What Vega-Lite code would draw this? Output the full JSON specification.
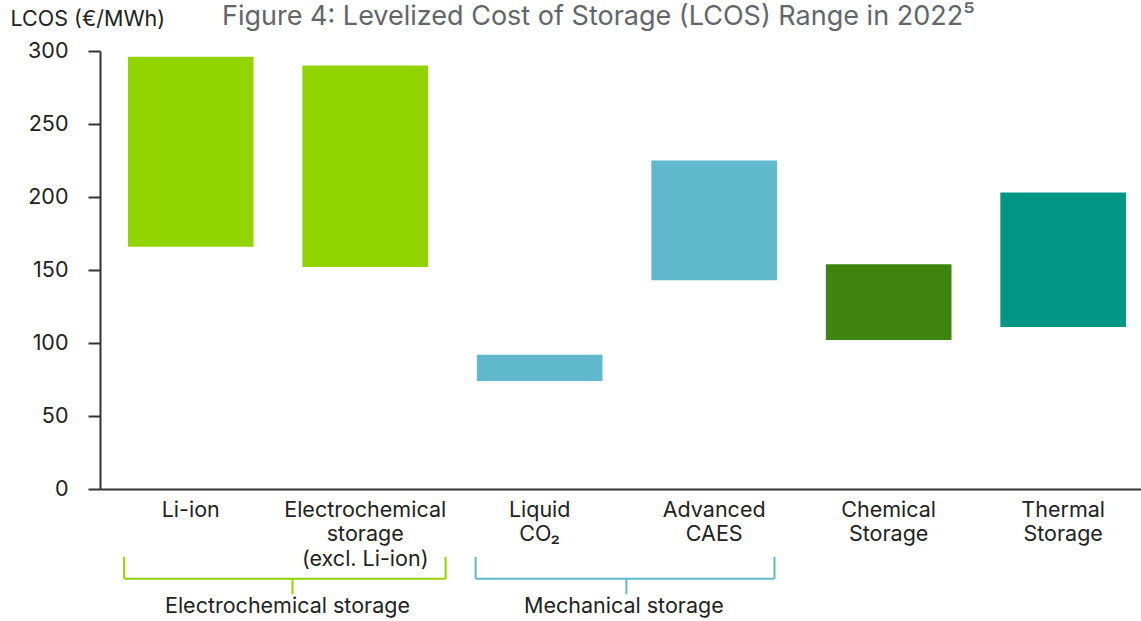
{
  "$schema": "https://vega.github.io/schema/vega-lite/v6.json",
  "autosize": "none",
  "padding": {"left": 100, "top": 51, "right": 0, "bottom": 132},
  "width": 1041,
  "height": 438,
  "background": "white",
  "config": {
    "font": "Inter",
    "view": {"stroke": null},
    "axis": {"labelFont": "Inter", "titleFont": "Inter"}
  },
  "title": {
    "text": "Figure 4: Levelized Cost of Storage (LCOS) Range in 2022⁵",
    "font": "Inter",
    "fontSize": 27,
    "fontWeight": "normal",
    "color": "#62666b",
    "anchor": "middle",
    "dx": -22,
    "offset": 0,
    "dy": 23
  },
  "datasets": {
    "bars": [
      {"category": "Li-ion", "group": "Electrochemical storage", "low": 166, "high": 296},
      {"category": "Electrochemical storage (excl.\u00a0Li-ion)", "group": "Electrochemical storage", "low": 152, "high": 290},
      {"category": "Liquid CO₂", "group": "Mechanical storage", "low": 74, "high": 92},
      {"category": "Advanced CAES", "group": "Mechanical storage", "low": 143, "high": 225},
      {"category": "Chemical Storage", "group": "Chemical storage", "low": 102, "high": 154},
      {"category": "Thermal Storage", "group": "Thermal storage", "low": 111, "high": 203}
    ],
    "brackets": [
      {"group": "Electrochemical storage", "start": "Li-ion", "end": "Electrochemical storage (excl.\u00a0Li-ion)"},
      {"group": "Mechanical storage", "start": "Liquid CO₂", "end": "Advanced CAES"}
    ]
  },
  "layer": [
    {
      "data": {"name": "bars"},
      "mark": {"type": "bar"},
      "encoding": {
        "x": {
          "field": "category",
          "type": "nominal",
          "scale": {
            "domain": ["Li-ion", "Electrochemical storage (excl.\u00a0Li-ion)", "Liquid CO₂", "Advanced CAES", "Chemical Storage", "Thermal Storage"],
            "paddingInner": 0.28, "paddingOuter": 0.123, "align": 0.65
          },
          "axis": {
            "title": null,
            "labelAngle": 0,
            "labelExpr": "split(datum.label, ' ')",
            "labelFontSize": 21.5,
            "labelColor": "#222222",
            "labelLineHeight": 24.5,
            "labelPadding": 10,
            "labelBaseline": "top",
            "ticks": false,
            "domainColor": "#333333",
            "domainWidth": 2
          }
        },
        "y": {
          "field": "high",
          "type": "quantitative",
          "scale": {"domain": [0, 300], "nice": false},
          "axis": {
            "title": "LCOS (€/MWh)",
            "titleAngle": 0,
            "titleAlign": "left",
            "titleBaseline": "middle",
            "titleX": -90,
            "titleY": -32,
            "titleFontSize": 21.5,
            "titleFontWeight": "normal",
            "titleColor": "#222222",
            "values": [0, 50, 100, 150, 200, 250, 300],
            "grid": false,
            "labelFontSize": 21.5,
            "labelColor": "#222222",
            "labelPadding": 20,
            "tickSize": 12,
            "tickWidth": 2,
            "tickColor": "#333333",
            "domainColor": "#333333",
            "domainWidth": 2
          }
        },
        "y2": {"field": "low"},
        "color": {
          "field": "group",
          "type": "nominal",
          "scale": {
            "domain": ["Electrochemical storage", "Mechanical storage", "Chemical storage", "Thermal storage"],
            "range": ["#92d400", "#5fb8cc", "#3f840e", "#009686"]
          },
          "legend": null
        }
      }
    },
    {
      "data": {"name": "brackets"},
      "transform": [{"filter": "datum.group === 'Electrochemical storage'"}],
      "layer": [
        {
          "mark": {"type": "rule", "strokeWidth": 2},
          "encoding": {
            "x": {"field": "start", "type": "nominal", "bandPosition": -0.03},
            "x2": {"field": "end", "bandPosition": 1.14},
            "y": {"datum": -61.5},
            "color": {"field": "group", "type": "nominal", "legend": null}
          }
        },
        {
          "mark": {"type": "rule", "strokeWidth": 2},
          "encoding": {
            "x": {"field": "start", "type": "nominal", "bandPosition": -0.03},
            "y": {"datum": -46.5},
            "y2": {"datum": -61.5},
            "color": {"field": "group", "type": "nominal", "legend": null}
          }
        },
        {
          "mark": {"type": "rule", "strokeWidth": 2},
          "encoding": {
            "x": {"field": "end", "type": "nominal", "bandPosition": 1.14},
            "y": {"datum": -46.5},
            "y2": {"datum": -61.5},
            "color": {"field": "group", "type": "nominal", "legend": null}
          }
        },
        {
          "mark": {"type": "rule", "strokeWidth": 2},
          "encoding": {
            "x": {"field": "start", "type": "nominal", "bandPosition": 1.31},
            "y": {"datum": -61.5},
            "y2": {"datum": -72},
            "color": {"field": "group", "type": "nominal", "legend": null}
          }
        },
        {
          "mark": {"type": "text", "fontSize": 21.5, "color": "#222222", "baseline": "middle", "align": "center"},
          "encoding": {
            "x": {"field": "start", "type": "nominal", "bandPosition": 1.27},
            "y": {"datum": -80.5},
            "text": {"field": "group"}
          }
        }
      ]
    },
    {
      "data": {"name": "brackets"},
      "transform": [{"filter": "datum.group === 'Mechanical storage'"}],
      "layer": [
        {
          "mark": {"type": "rule", "strokeWidth": 2},
          "encoding": {
            "x": {"field": "start", "type": "nominal", "bandPosition": -0.01},
            "x2": {"field": "end", "bandPosition": 0.98},
            "y": {"datum": -61.5},
            "color": {"field": "group", "type": "nominal", "legend": null}
          }
        },
        {
          "mark": {"type": "rule", "strokeWidth": 2},
          "encoding": {
            "x": {"field": "start", "type": "nominal", "bandPosition": -0.01},
            "y": {"datum": -46.5},
            "y2": {"datum": -61.5},
            "color": {"field": "group", "type": "nominal", "legend": null}
          }
        },
        {
          "mark": {"type": "rule", "strokeWidth": 2},
          "encoding": {
            "x": {"field": "end", "type": "nominal", "bandPosition": 0.98},
            "y": {"datum": -46.5},
            "y2": {"datum": -61.5},
            "color": {"field": "group", "type": "nominal", "legend": null}
          }
        },
        {
          "mark": {"type": "rule", "strokeWidth": 2},
          "encoding": {
            "x": {"field": "start", "type": "nominal", "bandPosition": 1.19},
            "y": {"datum": -61.5},
            "y2": {"datum": -72},
            "color": {"field": "group", "type": "nominal", "legend": null}
          }
        },
        {
          "mark": {"type": "text", "fontSize": 21.5, "color": "#222222", "baseline": "middle", "align": "center"},
          "encoding": {
            "x": {"field": "start", "type": "nominal", "bandPosition": 1.17},
            "y": {"datum": -80.5},
            "text": {"field": "group"}
          }
        }
      ]
    }
  ]
}
